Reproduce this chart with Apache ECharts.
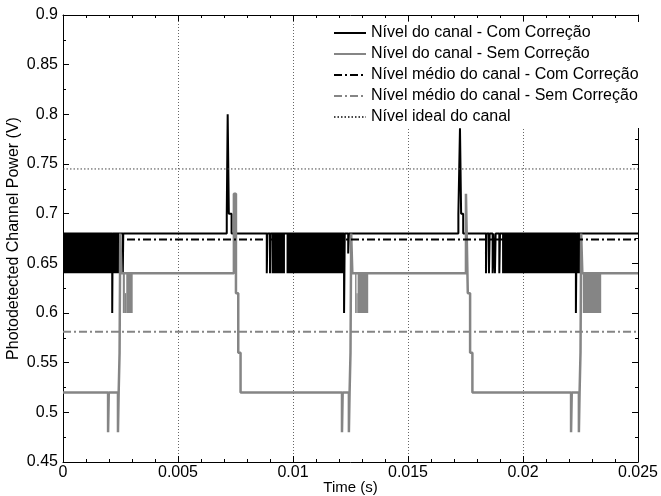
<!DOCTYPE html>
<html>
<head>
<meta charset="utf-8">
<script src="https://cdn.jsdelivr.net/npm/echarts@6/dist/echarts.min.js"></script>
<style>
html,body{margin:0;padding:0;background:#fff}
#grafico{width:661px;height:496px}
</style>
</head>
<body>
<div id="grafico"></div>
<script>
/* dados lidos da figura */
// nivel do canal com correcao: instante de mudanca e nivel mantido a partir dele
var tempoCom = [0, 0.00214, 0.00216, 0.00260, 0.00262, 0.00712, 0.00716, 0.00721, 0.00733,
    0.00886, 0.00889, 0.00900, 0.00903, 0.01222, 0.01225, 0.01240, 0.01243,
    0.01719, 0.01726, 0.01731, 0.01740, 0.01839, 0.01842, 0.01852, 0.01855,
    0.01868, 0.01871, 0.01878, 0.01881, 0.01897, 0.01900, 0.02230, 0.02233, 0.025];
var nivelCom = [0.68, 0.60, 0.68, 0.64, 0.68, 0.70, 0.80, 0.70, 0.68,
    0.64, 0.68, 0.64, 0.68, 0.60, 0.68, 0.66, 0.68,
    0.70, 0.786, 0.70, 0.68, 0.64, 0.68, 0.64, 0.68,
    0.64, 0.68, 0.64, 0.68, 0.64, 0.68, 0.60, 0.68, 0.68];
// trechos de chaveamento rapido (inicio, fim, nivel baixo, nivel alto)
var rajadasCom = [[0, 0.00245, 0.64, 0.68], [0.00907, 0.00965, 0.64, 0.68],
    [0.00972, 0.01226, 0.64, 0.68], [0.01909, 0.02255, 0.64, 0.68]];

// nivel do canal sem correcao
var tempoSem = [0, 0.00196, 0.00199, 0.00239, 0.00242, 0.00246, 0.00249, 0.00254,
    0.00743, 0.00752, 0.00762, 0.00772,
    0.01213, 0.01216, 0.01243, 0.01246, 0.01250, 0.01253, 0.01258,
    0.01752, 0.01760, 0.01770, 0.01780,
    0.02209, 0.02212, 0.02243, 0.02246, 0.02250, 0.02253, 0.02258, 0.025];
var nivelSem = [0.52, 0.48, 0.52, 0.48, 0.52, 0.56, 0.68, 0.64,
    0.72, 0.62, 0.56, 0.52,
    0.48, 0.52, 0.48, 0.52, 0.56, 0.68, 0.64,
    0.72, 0.62, 0.56, 0.52,
    0.48, 0.52, 0.48, 0.52, 0.56, 0.68, 0.64, 0.64];
var rajadasSem = [[0.00260, 0.00269, 0.60, 0.64], [0.00269, 0.00275, 0.60, 0.62], [0.00275, 0.00303, 0.60, 0.64],
    [0.01270, 0.01276, 0.60, 0.64], [0.01276, 0.01281, 0.60, 0.62], [0.01281, 0.01327, 0.60, 0.64],
    [0.02260, 0.02340, 0.60, 0.64]];

var mediaCom = 0.674;
var mediaSem = 0.581;
var nivelIdeal = 0.745;
var tempoMin = 0, tempoMax = 0.025;

var nomes = ['Nível do canal - Com Correção', 'Nível do canal - Sem Correção',
    'Nível médio do canal - Com Correção', 'Nível médio do canal - Sem Correção',
    'Nível ideal do canal'];

/* montagem */
function pares(t, v) {
    return t.map(function (x, i) { return [x, v[i]]; });
}
function areas(r) {
    return r.map(function (a) {
        return [{ xAxis: a[0], yAxis: a[2] }, { xAxis: a[1], yAxis: a[3] }];
    });
}
function constante(v) {
    return [[tempoMin, v], [tempoMax, v]];
}

var fonte = 'Liberation Sans, Arial, Helvetica, sans-serif';
var myChart = echarts.init(document.getElementById('grafico'));

var eixoX = {
    type: 'value', min: tempoMin, max: tempoMax, interval: 0.005,
    axisLine: { onZero: false, lineStyle: { color: '#000', width: 1 } },
    axisTick: { inside: true, length: 6, lineStyle: { color: '#000' } },
    minorTick: { show: true, splitNumber: 5, length: 3, lineStyle: { color: '#000' } }
};
var eixoY = {
    type: 'value', min: 0.45, max: 0.9, interval: 0.05,
    axisLine: { onZero: false, lineStyle: { color: '#000', width: 1 } },
    axisTick: { inside: true, length: 6, lineStyle: { color: '#000' } },
    minorTick: { show: true, splitNumber: 2, length: 3, lineStyle: { color: '#000' } },
    splitLine: { show: false }
};

var option = {
    animation: false,
    backgroundColor: '#fff',
    grid: { left: 63, right: 23, top: 15, bottom: 34, containLabel: false, outerBoundsMode: 'none' },
    legend: {
        orient: 'vertical', left: 330, top: 22,
        padding: [3, 4, 3, 3],
        backgroundColor: '#fff',
        itemWidth: 32, itemHeight: 10, itemGap: 5,
        itemStyle: { opacity: 0 },
        textStyle: { fontFamily: fonte, fontSize: 16, color: '#000', lineHeight: 16 },
        data: nomes
    },
    xAxis: [
        echarts.util.merge({
            position: 'bottom',
            name: 'Time (s)', nameLocation: 'middle', nameGap: 18, nameMoveOverlap: false,
            nameTextStyle: { fontFamily: fonte, fontSize: 15, color: '#000' },
            axisLabel: { margin: 3, fontFamily: fonte, fontSize: 16, color: '#000',
                formatter: function (v) { return String(+v.toFixed(4)); } },
            splitLine: { show: true, lineStyle: { color: '#666', type: [1, 2], width: 1 } }
        }, eixoX, true),
        echarts.util.merge({
            position: 'top', axisLabel: { show: false }, splitLine: { show: false }
        }, eixoX, true)
    ],
    yAxis: [
        echarts.util.merge({
            position: 'left',
            name: 'Photodetected Channel Power (V)', nameLocation: 'middle', nameGap: 41, nameMoveOverlap: false,
            nameTextStyle: { fontFamily: fonte, fontSize: 16, color: '#000' },
            axisLabel: { margin: 5, fontFamily: fonte, fontSize: 16, color: '#000',
                formatter: function (v) { return String(+v.toFixed(3)); } }
        }, eixoY, true),
        echarts.util.merge({
            position: 'right', axisLabel: { show: false }
        }, eixoY, true)
    ],
    series: [
        {
            name: nomes[0], type: 'line', step: 'end', symbol: 'none',
            data: pares(tempoCom, nivelCom),
            lineStyle: { color: '#000', width: 2 }, itemStyle: { color: '#000' },
            markArea: { silent: true, itemStyle: { color: '#000', opacity: 1 }, label: { show: false },
                data: areas(rajadasCom) }
        },
        {
            name: nomes[1], type: 'line', step: 'end', symbol: 'none',
            data: pares(tempoSem, nivelSem),
            lineStyle: { color: '#858585', width: 2.5 }, itemStyle: { color: '#858585' },
            markArea: { silent: true, itemStyle: { color: '#858585', opacity: 1 }, label: { show: false },
                data: areas(rajadasSem) }
        },
        {
            name: nomes[2], type: 'line', symbol: 'none', data: constante(mediaCom),
            lineStyle: { color: '#000', width: 2, type: [8, 3, 2, 3] }, itemStyle: { color: '#000' }
        },
        {
            name: nomes[3], type: 'line', symbol: 'none', data: constante(mediaSem),
            lineStyle: { color: '#858585', width: 2, type: [8, 3, 2, 3] }, itemStyle: { color: '#858585' }
        },
        {
            name: nomes[4], type: 'line', symbol: 'none', data: constante(nivelIdeal),
            lineStyle: { color: '#444', width: 1, type: [1.5, 2] }, itemStyle: { color: '#444' }
        }
    ]
};

myChart.setOption(option);
</script>
</body>
</html>
